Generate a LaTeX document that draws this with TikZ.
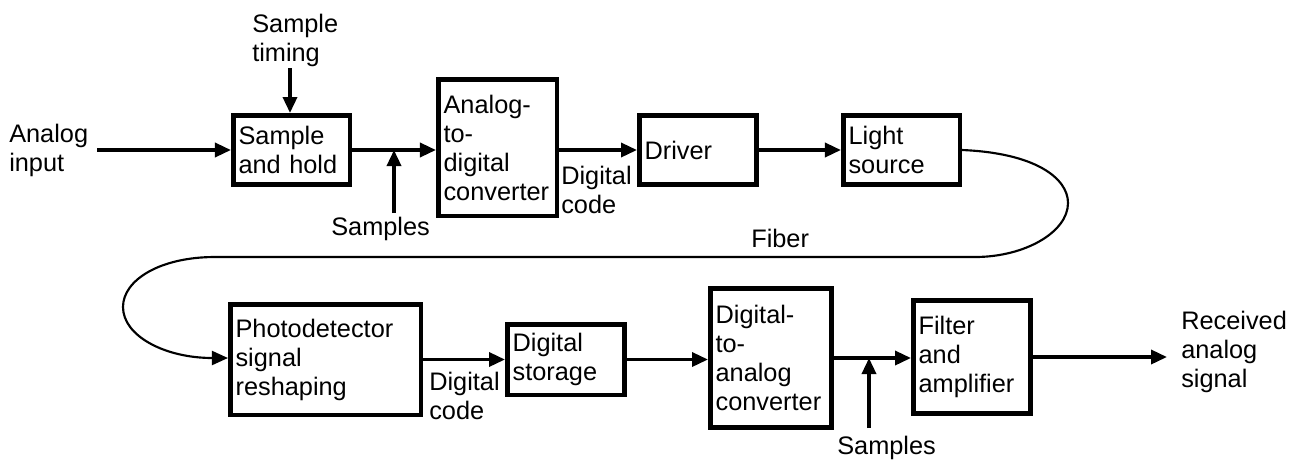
\documentclass[tikz,border=0pt]{standalone}
\usepackage{fontspec}
\setmainfont{Liberation Sans}
\usetikzlibrary{arrows.meta}
\tikzset{
  box/.style={draw, line width=3.4pt, align=left, inner xsep=4pt, inner ysep=0pt, anchor=center},
  lbl/.style={align=left, inner sep=0pt, anchor=north west},
  arr/.style={line width=2.6pt, -{Triangle[length=12pt,width=10.5pt]}},
  fiber/.style={line width=1.6pt, -{Triangle[length=12pt,width=10.5pt]}}
}
\begin{document}
\begin{tikzpicture}[x=0.75pt, y=-0.75pt, font=\fontsize{19pt}{21.75pt}\selectfont]
\useasboundingbox (0,0) rectangle (1303,462);
% top row
\node[box, text width=79.4pt, minimum height=52.1pt] (SH) at (291.5,150) {Sample\\and hold};
\node[box, text width=80.9pt, minimum height=102.4pt] (ADC) at (497.5,147.5) {Analog-\\to-\\digital\\converter};
\node[box, text width=80.1pt, minimum height=52.1pt] (DRV) at (698,150) {Driver};
\node[box, text width=79.4pt, minimum height=52.1pt] (LS) at (901.5,150) {Light\\source};
% bottom row
\node[box, text width=134.9pt, minimum height=82.9pt] (PD) at (325.5,359.5) {Photodetector\\signal\\reshaping};
\node[box, text width=80.1pt, minimum height=52.9pt] (DS) at (566,359.5) {Digital\\storage};
\node[box, text width=83.1pt, minimum height=103.9pt] (DAC) at (771,358) {Digital-\\to-\\analog\\converter};
\node[box, text width=80.1pt, minimum height=84.4pt] (FA) at (972,357) {Filter\\and\\amplifier};
% labels
\node[lbl] (ain) at (9,124) {Analog\\input};
\node[lbl] (stl) at (252,14) {Sample\\timing};
\node[lbl] (sm1) at (331,217) {Samples};
\node[lbl] (dc1) at (561,166) {Digital\\code};
\node[lbl] (fib) at (751,229) {Fiber};
\node[lbl] (dc2) at (429,372) {Digital\\code};
\node[lbl] (sm2) at (837,436) {Samples};
\node[lbl] (rcv) at (1181,311) {Received\\analog\\signal};
% free ends
\coordinate (ainE) at (97,150);
\coordinate (stE) at (290,68);
\coordinate (s1) at (394,213);
\coordinate (s2) at (869,428);
\coordinate (outE) at (1167,357);
% connectors
\draw[arr] (ainE) -- (SH.west);
\draw[arr] (stE) -- (stE |- SH.north);
\draw[arr] (SH.east) -- (ADC.west |- SH.east);
\draw[arr] (s1) -- (s1 |- SH.east);
\draw[arr] (ADC.east |- DRV.west) -- (DRV.west);
\draw[arr] (DRV.east) -- (LS.west);
\draw[fiber] (LS.east) .. controls (1035,153) and (1068,178) .. (1068,203)
  .. controls (1068,232) and (1025,257) .. (975,257) -- (215,257)
  .. controls (160,257) and (123,280) .. (123,307)
  .. controls (123,336) and (165,358) .. (PD.west |- 0,358);
\draw[arr] (PD.east) -- (DS.west);
\draw[arr] (DS.east) -- (DAC.west |- DS.east);
\draw[arr] (DAC.east) -- (FA.west |- DAC.east);
\draw[arr] (s2) -- (s2 |- DAC.east);
\draw[arr] (FA.east) -- (outE);
\end{tikzpicture}
\end{document}
